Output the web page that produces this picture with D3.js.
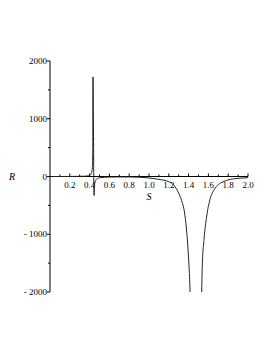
<!DOCTYPE html>
<html><head><meta charset="utf-8">
<script src="https://cdn.jsdelivr.net/npm/d3@7/dist/d3.min.js"></script>
<style>body{margin:0;background:#fff}svg{display:block}text{font-family:"Liberation Serif","Times New Roman",serif;fill:#000}</style>
</head><body>
<script>
// Branch 1: from S=0 across the first pole (Maple joins the samples) to the second pole
const S1 = [0.02,0.1,0.2,0.3,0.36,0.39,0.41,0.42,0.428,0.432,0.434,0.445,0.45,0.46,0.48,0.5,0.6,0.7,0.8,0.9,1.0,1.1,1.2,1.25,1.28,1.3,1.33,1.364,1.387,1.404,1.415,1.42];
const R1 = [0,0,1,3,6,12,30,70,160,450,1724,-330,-150,-70,-35,-22,-10,-8,-8,-12,-25,-50,-90,-150,-224,-290,-420,-684,-1086,-1546,-2000,-2400];
// Branch 2: right of the second pole
const S2 = [1.52,1.532,1.538,1.556,1.583,1.616,1.66,1.70,1.75,1.82,1.9,2.0];
const R2 = [-2400,-2000,-1546,-1086,-684,-397,-224,-140,-90,-50,-32,-20];
const xMajor = [0.2,0.4,0.6,0.8,1.0,1.2,1.4,1.6,1.8,2.0];
const xMinor = [0.1,0.3,0.5,0.7,0.9,1.1,1.3,1.5,1.7,1.9];
const yMajor = [-2000,-1000,0,1000,2000];
const yMinor = [-1500,-500,500,1500];

const W=273,H=353;
const svg=d3.select("body").append("svg").attr("width",W).attr("height",H);
const x=d3.scaleLinear().domain([0,2]).range([50,248]);
const y=d3.scaleLinear().domain([-2000,2000]).range([292,61]);

svg.append("clipPath").attr("id","clip").append("rect")
  .attr("x",x(0)).attr("y",y(2000)).attr("width",x(2)-x(0)).attr("height",y(-2000)-y(2000));

const ax="#000";
// x axis
const xa=svg.append("g");
xa.append("line").attr("x1",x(0)).attr("x2",x(2)).attr("y1",y(0)).attr("y2",y(0)).attr("stroke",ax).attr("stroke-width",1);
xMajor.forEach(v=>{
  xa.append("line").attr("x1",x(v)).attr("x2",x(v)).attr("y1",y(0)).attr("y2",y(0)-3).attr("stroke",ax);
  xa.append("text").attr("x",x(v)).attr("y",y(0)+11).attr("text-anchor","middle").attr("font-size",9).text(d3.format(".1f")(v));
});
xMinor.forEach(v=>{
  xa.append("line").attr("x1",x(v)).attr("x2",x(v)).attr("y1",y(0)).attr("y2",y(0)-2).attr("stroke",ax);
});
// y axis
const ya=svg.append("g");
ya.append("line").attr("x1",x(0)).attr("x2",x(0)).attr("y1",y(-2000)).attr("y2",y(2000)).attr("stroke",ax);
yMajor.forEach(v=>{
  ya.append("line").attr("x1",x(0)-3).attr("x2",x(0)).attr("y1",y(v)).attr("y2",y(v)).attr("stroke",ax);
  ya.append("text").attr("x",x(0)-3).attr("y",y(v)+3).attr("text-anchor","end").attr("font-size",9).text(v<0?"- "+Math.abs(v):String(v));
});
yMinor.forEach(v=>{
  ya.append("line").attr("x1",x(0)-2).attr("x2",x(0)).attr("y1",y(v)).attr("y2",y(v)).attr("stroke",ax);
});
svg.append("text").attr("x",12).attr("y",y(0)+3).attr("text-anchor","middle").attr("font-size",10).attr("font-style","italic").text("R");
svg.append("text").attr("x",x(1)).attr("y",y(0)+23).attr("text-anchor","middle").attr("font-size",10).attr("font-style","italic").text("S");

const line=d3.line().x(d=>x(d[0])).y(d=>y(d[1])).curve(d3.curveMonotoneX);
const g=svg.append("g").attr("clip-path","url(#clip)");
[[S1,R1],[S2,R2]].forEach(([s,r])=>{
  g.append("path").datum(s.map((v,i)=>[v,r[i]])).attr("d",line)
   .attr("fill","none").attr("stroke","#222").attr("stroke-width",1);
});
</script>
</body></html>
